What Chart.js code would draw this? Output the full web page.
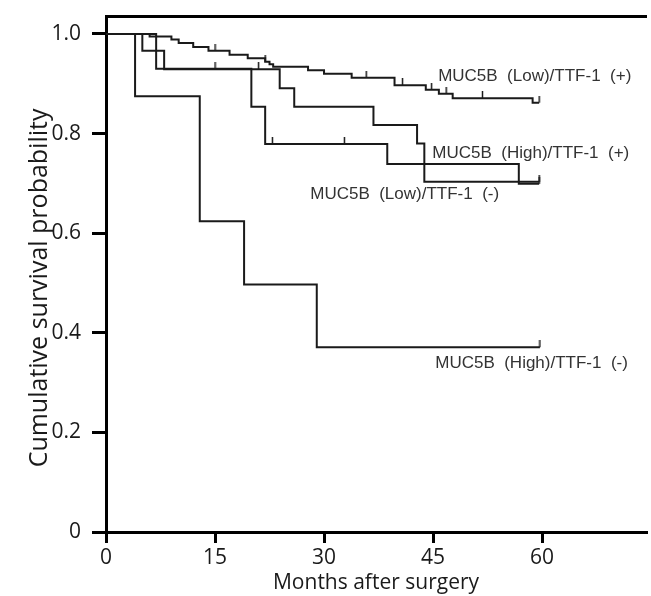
<!DOCTYPE html>
<html>
<head>
<meta charset="utf-8">
<script src="https://cdn.jsdelivr.net/npm/chart.js@4.4.0/dist/chart.umd.min.js"></script>
<style>
    html, body { margin: 0; padding: 0; background: #fff; }
    #wrap { width: 651px; height: 596px; }
</style>
</head>
<body>
<div id="wrap"><canvas id="kmChart" width="651" height="596"></canvas></div>
<script>
// Eixos
const xTicks = [0, 15, 30, 45, 60];
const yTicks = [0, 0.2, 0.4, 0.6, 0.8, 1.0];

// Curvas de Kaplan-Meier (meses, sobrevida)
const lowPosTimes = [0, 6.0, 9.0, 10.0, 12.0, 14.1, 17.0, 19.5, 21.9, 22.5, 23.0, 27.8, 30.0, 33.8, 39.7, 44.0, 45.8, 47.7, 58.7, 59.6];
const lowPosSurv  = [1, 0.995, 0.989, 0.982, 0.974, 0.966, 0.958, 0.951, 0.944, 0.939, 0.934, 0.927, 0.920, 0.912, 0.897, 0.888, 0.880, 0.871, 0.862, 0.862];
const lowPosCensor = [15.0, 21.9, 35.8, 40.8, 44.8, 46.8, 51.8, 59.6];

const highPosTimes = [0, 5.0, 8.0, 23.9, 25.9, 36.8, 42.8, 43.8, 59.6];
const highPosSurv  = [1, 0.966, 0.929, 0.891, 0.854, 0.817, 0.780, 0.703, 0.703];
const highPosCensor = [21.0, 59.6];

const lowNegTimes = [0, 6.9, 20.0, 21.9, 38.7, 56.8, 59.6];
const lowNegSurv  = [1, 0.930, 0.854, 0.779, 0.739, 0.699, 0.699];
const lowNegCensor = [15.0, 22.9, 32.8, 59.6];

const highNegTimes = [0, 4.0, 12.9, 19.0, 29.0, 59.7];
const highNegSurv  = [1, 0.875, 0.624, 0.497, 0.371, 0.371];
const highNegCensor = [59.7];

const groupNames = [
    'MUC5B  (Low)/TTF-1  (+)',
    'MUC5B  (High)/TTF-1  (+)',
    'MUC5B  (Low)/TTF-1  (-)',
    'MUC5B  (High)/TTF-1  (-)'
];

// Posição dos rótulos das curvas (meses, sobrevida)
const labelAnchors = [[45.7, 0.914], [44.9, 0.761], [28.1, 0.677], [45.3, 0.339]];

const yTitle = 'Cumulative survival probability';
const lineColor = '#1a1a1a';

function toPoints(times, surv) {
    return times.map((t, i) => ({ x: t, y: surv[i] }));
}

// valor da curva no tempo t (degrau)
function survAt(times, surv, t) {
    let s = surv[0];
    for (let i = 0; i < times.length; i++) {
        if (times[i] <= t) s = surv[i];
    }
    return s;
}

function censorPoints(times, surv, cens) {
    return cens.map(t => ({ x: t, y: survAt(times, surv, t) }));
}

// marca de censura: traço vertical acima da linha
const censorMark = document.createElement('canvas');
censorMark.width = 3;
censorMark.height = 14;
(function() {
    const c = censorMark.getContext('2d');
    c.strokeStyle = lineColor;
    c.lineWidth = 1.5;
    c.beginPath();
    c.moveTo(1.5, 0);
    c.lineTo(1.5, 7);
    c.stroke();
})();

const groups = [
    [lowPosTimes, lowPosSurv, lowPosCensor],
    [highPosTimes, highPosSurv, highPosCensor],
    [lowNegTimes, lowNegSurv, lowNegCensor],
    [highNegTimes, highNegSurv, highNegCensor]
];

const datasets = [];
groups.forEach((g, i) => {
    datasets.push({
        label: groupNames[i],
        data: toPoints(g[0], g[1]),
        showLine: true,
        stepped: 'before',
        borderColor: lineColor,
        borderWidth: 2,
        pointRadius: 0
    });
    datasets.push({
        label: groupNames[i] + ' censored',
        data: censorPoints(g[0], g[1], g[2]),
        showLine: false,
        pointStyle: censorMark,
        pointRadius: 4
    });
});

const curveLabelPlugin = {
    id: 'curveLabels',
    afterDatasetsDraw(chart) {
        const { ctx, scales } = chart;
        ctx.save();
        ctx.font = '17px "Liberation Sans", Arial, sans-serif';
        ctx.fillStyle = '#333';
        ctx.textBaseline = 'middle';
        ctx.textAlign = 'left';
        groupNames.forEach((name, i) => {
            const a = labelAnchors[i];
            ctx.fillText(name, scales.x.getPixelForValue(a[0]), scales.y.getPixelForValue(a[1]));
        });
        ctx.restore();

        // título do eixo y
        ctx.save();
        ctx.font = '25px "Open Sans", sans-serif';
        ctx.fillStyle = lineColor;
        ctx.textAlign = 'center';
        ctx.textBaseline = 'middle';
        ctx.translate(40, scales.y.getPixelForValue(0.49));
        ctx.rotate(-Math.PI / 2);
        ctx.fillText(yTitle, 0, 0);
        ctx.restore();
    }
};

Chart.defaults.font.family = '"Open Sans", sans-serif';
Chart.defaults.color = lineColor;

new Chart(document.getElementById('kmChart'), {
    type: 'scatter',
    data: { datasets: datasets },
    options: {
        responsive: false,
        animation: false,
        layout: { padding: 0 },
        plugins: {
            legend: { display: false },
            tooltip: { enabled: false }
        },
        scales: {
            x: {
                type: 'linear',
                position: 'bottom',
                min: 0,
                max: 74.3,
                afterBuildTicks: scale => { scale.ticks = xTicks.map(v => ({ value: v })); },
                afterFit: scale => {
                    scale.height = 64;
                    scale.paddingLeft = 0;
                    scale.paddingRight = 0;
                },
                ticks: { font: { size: 21 }, padding: 2, color: lineColor },
                grid: { drawOnChartArea: false, tickLength: 11, lineWidth: 3, color: '#000' },
                border: { display: true, width: 3, color: '#000' },
                title: {
                    display: true,
                    text: 'Months after surgery',
                    font: { size: 21 },
                    padding: 0,
                    color: lineColor
                }
            },
            x2: {
                type: 'linear',
                position: 'top',
                min: 0,
                max: 1,
                afterFit: scale => {
                    scale.height = 16;
                    scale.paddingLeft = 0;
                    scale.paddingRight = 0;
                },
                ticks: { display: false },
                grid: { drawOnChartArea: false, drawTicks: false },
                border: { display: true, width: 3, color: '#000' }
            },
            y: {
                type: 'linear',
                min: 0,
                max: 1.036,
                afterBuildTicks: scale => { scale.ticks = yTicks.map(v => ({ value: v })); },
                afterFit: scale => {
                    scale.width = 106;
                    scale.paddingTop = 0;
                    scale.paddingBottom = 0;
                },
                ticks: {
                    font: { size: 21 },
                    padding: 11,
                    color: lineColor,
                    callback: v => v === 0 ? '0' : v.toFixed(1)
                },
                grid: { drawOnChartArea: false, tickLength: 14, lineWidth: 3, color: '#000' },
                border: { display: true, width: 3, color: '#000' },
                title: { display: false }
            }
        }
    },
    plugins: [curveLabelPlugin]
});
</script>
</body>
</html>
